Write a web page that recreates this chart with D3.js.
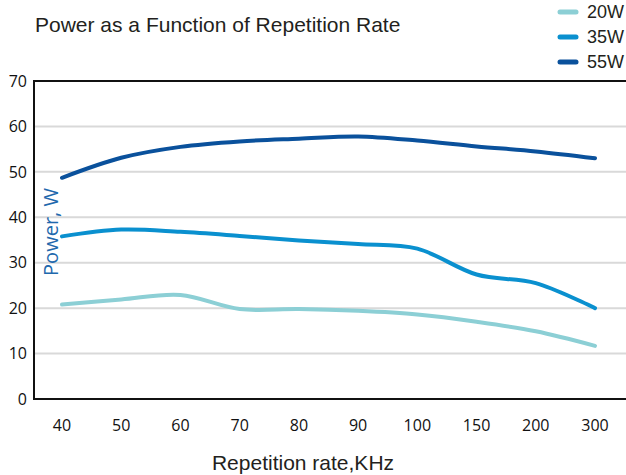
<!DOCTYPE html>
<html>
<head>
<meta charset="utf-8">
<script src="https://cdn.jsdelivr.net/npm/d3@7"></script>
<style>
  body { margin: 0; background: #fff; }
  svg { display: block; }
</style>
</head>
<body>
<div id="chart"></div>
<script>
// data
var rates = ["40", "50", "60", "70", "80", "90", "100", "150", "200", "300"];
var yTicks = [0, 10, 20, 30, 40, 50, 60, 70];
var seriesNames = ["20W", "35W", "55W"];
var power20 = [20.8, 21.9, 22.9, 19.8, 19.8, 19.4, 18.6, 17.0, 14.9, 11.7];
var power35 = [35.8, 37.3, 36.8, 35.9, 34.9, 34.1, 33.1, 27.4, 25.5, 20.0];
var power55 = [48.7, 53.1, 55.5, 56.7, 57.3, 57.8, 56.9, 55.6, 54.5, 53.0];
var colours = ["#8ccfd5", "#0a90cf", "#0a519c"];

var svgWidth = 626, svgHeight = 475;
var margin = {top: 81, right: 0, bottom: 76, left: 34};
var height = svgHeight - margin.top - margin.bottom;

var svg = d3.select("#chart").append("svg")
    .attr("width", svgWidth).attr("height", svgHeight);

// x: categorical rates, evenly spaced
var x = d3.scalePoint()
    .domain(rates)
    .range([62, 595]);

var y = d3.scaleLinear()
    .domain([0, 70])
    .range([margin.top + height, margin.top]);

// gridlines
svg.append("g")
    .selectAll("line")
    .data(yTicks.filter(function(d) { return d > 0 && d < 70; }))
    .enter().append("line")
        .attr("x1", margin.left).attr("x2", svgWidth)
        .attr("y1", function(d) { return y(d); })
        .attr("y2", function(d) { return y(d); })
        .attr("stroke", "#d9d9d9")
        .attr("stroke-width", 2);

// frame: top, left, bottom
svg.append("path")
    .attr("d", "M" + svgWidth + "," + y(70) + "H" + margin.left + "V" + y(0) + "H" + svgWidth)
    .attr("fill", "none")
    .attr("stroke", "#111")
    .attr("stroke-width", 2);

// y tick labels
svg.append("g")
    .selectAll("text")
    .data(yTicks)
    .enter().append("text")
        .attr("x", 27)
        .attr("y", function(d) { return y(d); })
        .attr("dy", "0.36em")
        .attr("text-anchor", "end")
        .attr("font-family", "Open Sans")
        .attr("font-size", "16px")
        .attr("fill", "#111")
        .text(function(d) { return d; });

// x tick labels
svg.append("g")
    .selectAll("text")
    .data(rates)
    .enter().append("text")
        .attr("x", function(d) { return x(d); })
        .attr("y", 425)
        .attr("dy", "0.36em")
        .attr("text-anchor", "middle")
        .attr("font-family", "Open Sans")
        .attr("font-size", "16px")
        .attr("fill", "#111")
        .text(function(d) { return d; });

// lines
var series = [power20, power35, power55];
var line = d3.line()
    .x(function(d, i) { return x(rates[i]); })
    .y(function(d) { return y(d); })
    .curve(d3.curveCardinal.tension(0));

svg.append("g")
    .selectAll("path")
    .data(series)
    .enter().append("path")
        .attr("d", line)
        .attr("fill", "none")
        .attr("stroke", function(d, i) { return colours[i]; })
        .attr("stroke-width", 4)
        .attr("stroke-linecap", "round");

// title
svg.append("text")
    .attr("x", 35).attr("y", 32)
    .attr("font-family", "Liberation Sans")
    .attr("font-size", "21px")
    .attr("fill", "#231f20")
    .text("Power as a Function of Repetition Rate");

// axis titles
svg.append("text")
    .attr("x", 303).attr("y", 470)
    .attr("text-anchor", "middle")
    .attr("font-family", "Liberation Sans")
    .attr("font-size", "21px")
    .attr("fill", "#231f20")
    .text("Repetition rate,KHz");

svg.append("text")
    .attr("transform", "translate(58 232) rotate(-90)")
    .attr("text-anchor", "middle")
    .attr("font-family", "Open Sans")
    .attr("font-size", "20px")
    .attr("fill", "#1f69ad")
    .text("Power, W");

// legend
var legend = svg.append("g").selectAll("g")
    .data(seriesNames)
    .enter().append("g")
        .attr("transform", function(d, i) { return "translate(0 " + (12 + i * 25) + ")"; });
legend.append("line")
    .attr("x1", 560).attr("x2", 576)
    .attr("stroke", function(d, i) { return colours[i]; })
    .attr("stroke-width", 5)
    .attr("stroke-linecap", "round");
legend.append("text")
    .attr("x", 587).attr("dy", "0.36em")
    .attr("font-family", "Liberation Sans")
    .attr("font-size", "18px")
    .attr("fill", "#231f20")
    .text(function(d) { return d; });
</script>
</body>
</html>
